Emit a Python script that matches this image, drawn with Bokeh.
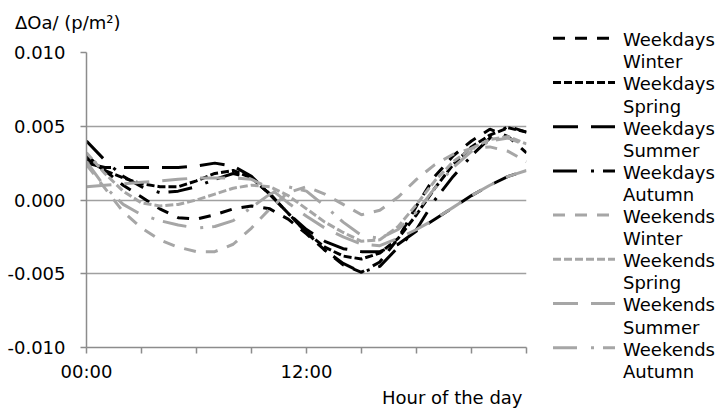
from bokeh.plotting import figure
from bokeh.models import Range1d, FixedTicker, Title, Div
from bokeh.layouts import row, column
from bokeh.embed import file_html
from bokeh.resources import INLINE

# ---------------- data ----------------
hours = list(range(25))
x_ticks = [0, 3, 6, 9, 12, 15, 18, 21, 24]
x_tick_labels = ["00:00", "", "", "", "12:00", "", "", "", ""]
y_ticks = [-0.010, -0.005, 0.0, 0.005, 0.010]
y_tick_labels = ["-0.010", "-0.005", "0.000", "0.005", "0.010"]
y_caption = "ΔOa/ (p/m²)"
x_caption = "Hour of the day"

weekdays_winter = [0.0030, 0.0020, 0.0010, 0.0002, -0.0006, -0.0012, -0.0013, -0.0010, -0.0006,
                   -0.0004, -0.0006, -0.0013, -0.0023, -0.0034, -0.0044, -0.0049, -0.0042, -0.0026,
                   -0.0004, 0.0016, 0.0030, 0.0040, 0.0048, 0.0043, 0.0032]
weekdays_spring = [0.0028, 0.0020, 0.0015, 0.0011, 0.0009, 0.0009, 0.0013, 0.0018, 0.0020,
                   0.0015, 0.0004, -0.0009, -0.0022, -0.0032, -0.0038, -0.0040, -0.0036, -0.0026,
                   -0.0010, 0.0008, 0.0024, 0.0036, 0.0044, 0.0049, 0.0046]
weekdays_summer = [0.0025, 0.0022, 0.0022, 0.0022, 0.0022, 0.0022, 0.0023, 0.0025, 0.0023,
                   0.0016, 0.0004, -0.0009, -0.0020, -0.0028, -0.0033, -0.0035, -0.0035, -0.0030,
                   -0.0021, -0.0013, -0.0005, 0.0003, 0.0010, 0.0016, 0.0020]
weekdays_autumn = [0.0040, 0.0027, 0.0016, 0.0009, 0.0005, 0.0006, 0.0009, 0.0014, 0.0018,
                   0.0015, 0.0004, -0.0009, -0.0022, -0.0034, -0.0043, -0.0049, -0.0045, -0.0032,
                   -0.0020, 0.0000, 0.0016, 0.0030, 0.0042, 0.0050, 0.0046]
weekends_winter = [0.0024, 0.0008, -0.0008, -0.0019, -0.0027, -0.0032, -0.0035, -0.0035, -0.0030,
                   -0.0019, -0.0006, 0.0005, 0.0009, 0.0004, -0.0003, -0.0010, -0.0007, 0.0002,
                   0.0014, 0.0024, 0.0031, 0.0035, 0.0036, 0.0033, 0.0026]
weekends_spring = [0.0032, 0.0018, 0.0006, -0.0002, -0.0004, -0.0003, 0.0000, 0.0004, 0.0008,
                   0.0010, 0.0009, 0.0003, -0.0006, -0.0015, -0.0022, -0.0028, -0.0027, -0.0018,
                   -0.0003, 0.0013, 0.0026, 0.0035, 0.0041, 0.0043, 0.0038]
weekends_summer = [0.0009, 0.0010, 0.0011, 0.0012, 0.0013, 0.0014, 0.0015, 0.0015, 0.0015,
                   0.0014, 0.0008, -0.0002, -0.0011, -0.0019, -0.0025, -0.0030, -0.0031, -0.0026,
                   -0.0020, -0.0013, -0.0005, 0.0003, 0.0010, 0.0016, 0.0020]
weekends_autumn = [0.0026, 0.0009, -0.0003, -0.0010, -0.0014, -0.0017, -0.0019, -0.0018, -0.0014,
                   -0.0005, 0.0004, 0.0009, 0.0006, -0.0004, -0.0015, -0.0024, -0.0026, -0.0020,
                   -0.0008, 0.0008, 0.0022, 0.0033, 0.0040, 0.0042, 0.0037]

series_values = [weekdays_winter, weekdays_spring, weekdays_summer, weekdays_autumn,
                 weekends_winter, weekends_spring, weekends_summer, weekends_autumn]
series_labels = ["Weekdays Winter", "Weekdays Spring", "Weekdays Summer", "Weekdays Autumn",
                 "Weekends Winter", "Weekends Spring", "Weekends Summer", "Weekends Autumn"]

# ---------------- styles ----------------
BLACK = "#000000"
GRAY = "#A6A6A6"
colors = [BLACK] * 4 + [GRAY] * 4
dashes = ["12 10", "8 3", "25 13", "24 14 3 9"] * 2
FONT = "DejaVu Sans"
FS = "18px"

p = figure(width=540, height=374, output_backend="svg", toolbar_location=None, title=None,
           x_range=Range1d(0, 24), y_range=Range1d(-0.010, 0.010),
           min_border_left=86, min_border_right=14, min_border_top=12, min_border_bottom=67)
p.outline_line_color = None
p.background_fill_color = "white"
p.border_fill_color = "white"

for vals, col, dsh in zip(series_values, colors, dashes):
    p.line(hours, vals, line_color=col, line_width=3, line_dash=dsh)

# axes
p.xaxis.ticker = FixedTicker(ticks=x_ticks)
p.xaxis.major_label_overrides = {float(t): lab for t, lab in zip(x_ticks, x_tick_labels)}
p.yaxis.ticker = FixedTicker(ticks=y_ticks)
p.yaxis.major_label_overrides = {float(t): lab for t, lab in zip(y_ticks, y_tick_labels)}
for ax in (p.xaxis, p.yaxis):
    ax.axis_line_color = "#8C8C8C"
    ax.axis_line_width = 1.5
    ax.major_tick_line_color = "#8C8C8C"
    ax.major_tick_line_width = 1.5
    ax.major_tick_out = 6
    ax.major_tick_in = 0
    ax.minor_tick_line_color = None
    ax.major_label_text_font = FONT
    ax.major_label_text_font_size = FS
    ax.major_label_text_color = "black"
p.yaxis.major_label_standoff = 15
p.xaxis.major_label_standoff = 7
p.xgrid.grid_line_color = None
p.ygrid.ticker = FixedTicker(ticks=y_ticks)
p.ygrid.grid_line_color = "#A0A0A0"
p.ygrid.grid_line_width = 1.5

p.add_layout(Title(text=x_caption, align="right", offset=4, standoff=1,
                   text_font=FONT, text_font_size=FS, text_font_style="normal",
                   text_color="black"), "below")

TXT = f"font-family:'{FONT}';font-size:18px;fill:black"

# ---------------- value caption strip above the plot ----------------
cap_svg = ('<svg xmlns="http://www.w3.org/2000/svg" width="540" height="40" '
           'style="display:block;background:white">'
           f'<text x="15" y="22" dominant-baseline="central" style="{TXT}">{y_caption}</text>'
           '</svg>')
caption_div = Div(text=cap_svg, width=540, height=40, margin=0)

# ---------------- legend panel (two text rows per series) ----------------
parts = ['<svg xmlns="http://www.w3.org/2000/svg" width="186" height="414" '
         'style="display:block;background:white">']
for i, (lab, col, dsh) in enumerate(zip(series_labels, colors, dashes)):
    yy = 38.3 + 44.2 * i
    first, second = lab.split(" ")
    parts.append(f'<line x1="13" y1="{yy:.1f}" x2="75" y2="{yy:.1f}" stroke="{col}" '
                 f'stroke-width="3" stroke-dasharray="{dsh}"/>')
    for k, word in enumerate((first, second)):
        ty = yy + 1.4 + 22.1 * k
        parts.append(f'<text x="83" y="{ty:.1f}" dominant-baseline="central" '
                     f'style="{TXT}">{word}</text>')
parts.append('</svg>')
legend_div = Div(text="".join(parts), width=186, height=414, margin=0)

layout = row(column(caption_div, p), legend_div)
open("out.html", "w").write(file_html(layout, INLINE))
